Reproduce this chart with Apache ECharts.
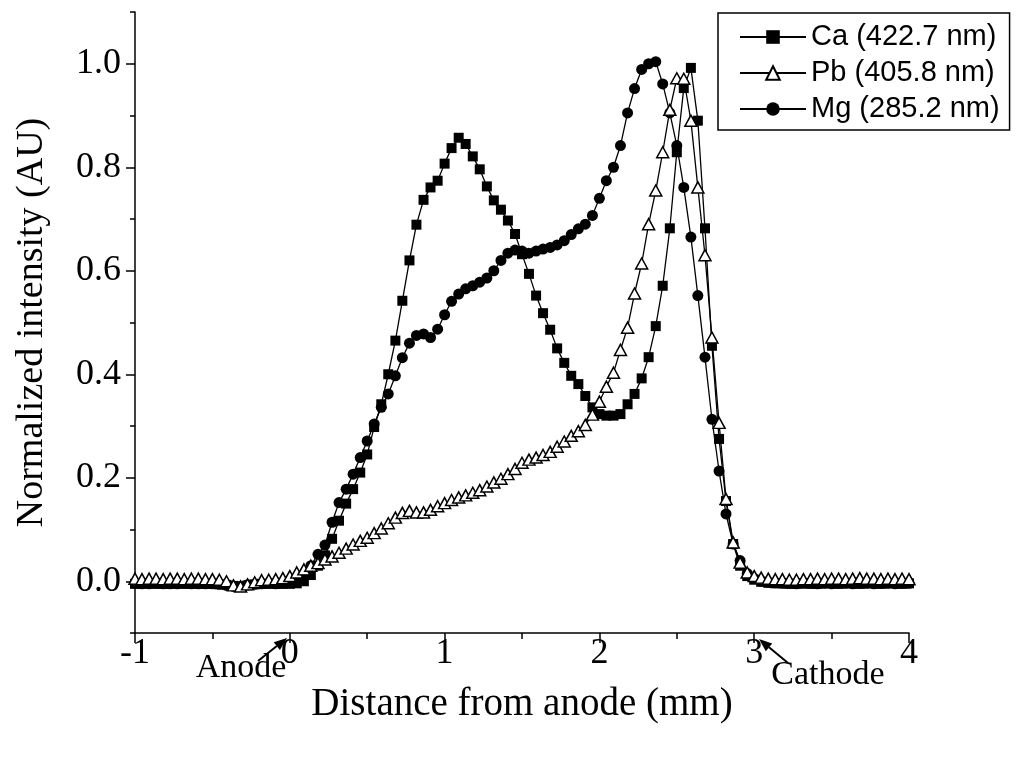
<!DOCTYPE html>
<html><head><meta charset="utf-8">
<script src="https://cdn.jsdelivr.net/npm/echarts@6/dist/echarts.min.js"></script>
<style>html,body{margin:0;padding:0;background:#fff}#c{width:1016px;height:758px}</style>
</head><body><div id="c"></div>
<script>
// Sampling positions (mm from anode)
const xs = [
 -1.000,-0.955,-0.909,-0.864,-0.818,-0.773,-0.727,-0.682,-0.636,-0.591,-0.545,
 -0.500,-0.455,-0.409,-0.364,-0.318,-0.273,-0.227,-0.182,-0.136,-0.091,-0.045,
  0.000, 0.045, 0.091, 0.136, 0.182, 0.227, 0.273, 0.318, 0.364, 0.409, 0.455,
  0.500, 0.545, 0.591, 0.636, 0.682, 0.727, 0.773, 0.818, 0.864, 0.909, 0.955,
  1.000, 1.045, 1.091, 1.136, 1.182, 1.227, 1.273, 1.318, 1.364, 1.409, 1.455,
  1.500, 1.545, 1.591, 1.636, 1.682, 1.727, 1.773, 1.818, 1.864, 1.909, 1.955,
  2.000, 2.045, 2.091, 2.136, 2.182, 2.227, 2.273, 2.318, 2.364, 2.409, 2.455,
  2.500, 2.545, 2.591, 2.636, 2.682, 2.727, 2.773, 2.818, 2.864, 2.909, 2.955,
  3.000, 3.045, 3.091, 3.136, 3.182, 3.227, 3.273, 3.318, 3.364, 3.409, 3.455,
  3.500, 3.545, 3.591, 3.636, 3.682, 3.727, 3.773, 3.818, 3.864, 3.909, 3.955,
  4.000
];
const caVals = [
 -0.005,-0.005,-0.004,-0.005,-0.005,-0.005,-0.004,-0.005,-0.005,-0.005,-0.005,
 -0.005,-0.006,-0.007,-0.009,-0.010,-0.008,-0.006,-0.005,-0.005,-0.005,-0.005,
 -0.005,-0.004, 0.000, 0.012, 0.030, 0.050, 0.082, 0.117, 0.150, 0.178, 0.210,
  0.245, 0.298, 0.342, 0.400, 0.465, 0.542, 0.620, 0.689, 0.737, 0.761, 0.774,
  0.807, 0.837, 0.857, 0.845, 0.821, 0.796, 0.763, 0.736, 0.718, 0.697, 0.671,
  0.632, 0.594, 0.552, 0.518, 0.486, 0.450, 0.422, 0.397, 0.381, 0.358, 0.336,
  0.323, 0.320, 0.320, 0.323, 0.342, 0.362, 0.392, 0.433, 0.493, 0.571, 0.682,
  0.829, 0.953, 0.992, 0.890, 0.682, 0.455, 0.275, 0.155, 0.072, 0.030, 0.010,
  0.003,-0.001,-0.003,-0.004,-0.004,-0.005,-0.005,-0.004,-0.005,-0.005,-0.004,
 -0.004,-0.005,-0.004,-0.004,-0.005,-0.004,-0.004,-0.005,-0.004,-0.004,-0.005,
 -0.004
];
const pbVals = [
  0.005, 0.004, 0.005, 0.005, 0.004, 0.005, 0.005, 0.004, 0.005, 0.005, 0.004,
  0.004, 0.003, 0.000,-0.008,-0.010,-0.006,-0.002, 0.002, 0.003, 0.004, 0.006,
  0.010, 0.017, 0.023, 0.030, 0.035, 0.042, 0.048, 0.055, 0.063, 0.071, 0.078,
  0.084, 0.093, 0.102, 0.112, 0.123, 0.132, 0.136, 0.133, 0.133, 0.138, 0.145,
  0.151, 0.157, 0.162, 0.166, 0.171, 0.176, 0.183, 0.191, 0.198, 0.207, 0.217,
  0.229, 0.235, 0.239, 0.244, 0.250, 0.260, 0.270, 0.281, 0.290, 0.302, 0.322,
  0.347, 0.376, 0.403, 0.447, 0.490, 0.556, 0.614, 0.690, 0.755, 0.829, 0.911,
  0.972, 0.971, 0.890, 0.761, 0.630, 0.471, 0.306, 0.159, 0.075, 0.036, 0.017,
  0.010, 0.007, 0.005, 0.004, 0.004, 0.003, 0.003, 0.004, 0.004, 0.005, 0.004,
  0.005, 0.005, 0.004, 0.005, 0.006, 0.005, 0.005, 0.004, 0.005, 0.004, 0.005,
  0.004
];
const mgVals = [
 -0.004,-0.005,-0.005,-0.004,-0.005,-0.005,-0.005,-0.004,-0.005,-0.005,-0.005,
 -0.005,-0.006,-0.008,-0.010,-0.010,-0.007,-0.006,-0.005,-0.004,-0.005,-0.004,
 -0.003, 0.000, 0.012, 0.030, 0.052, 0.070, 0.114, 0.152, 0.178, 0.207, 0.239,
  0.271, 0.304, 0.336, 0.362, 0.397, 0.432, 0.460, 0.475, 0.478, 0.471, 0.487,
  0.515, 0.541, 0.555, 0.565, 0.571, 0.578, 0.586, 0.600, 0.620, 0.634, 0.640,
  0.638, 0.634, 0.638, 0.642, 0.645, 0.650, 0.658, 0.670, 0.681, 0.690, 0.707,
  0.740, 0.774, 0.800, 0.842, 0.905, 0.952, 0.989, 1.000, 1.004, 0.961, 0.905,
  0.842, 0.761, 0.665, 0.552, 0.433, 0.313, 0.213, 0.130, 0.072, 0.040, 0.015,
  0.005, 0.000,-0.002,-0.003,-0.004,-0.004,-0.005,-0.004,-0.004,-0.005,-0.004,
 -0.005,-0.004,-0.004,-0.005,-0.004,-0.004,-0.005,-0.004,-0.004,-0.005,-0.004,
 -0.004
];
const seriesNames = ['Ca (422.7 nm)', 'Pb (405.8 nm)', 'Mg (285.2 nm)'];
const yLabelValues = [0, 0.2, 0.4, 0.6, 0.8, 1.0];
const yMinorValues = [-0.1, 0.1, 0.3, 0.5, 0.7, 0.9, 1.1];
const xTitle = 'Distance from anode (mm)';
const yTitle = 'Normalized intensity (AU)';
const anodeText = 'Anode';
const cathodeText = 'Cathode';

const pair = vals => xs.map((x, i) => [x, vals[i]]);
const serif = 'Liberation Serif';

function arrow(tail, tip) {
  const dx = tip[0] - tail[0], dy = tip[1] - tail[1];
  const L = Math.hypot(dx, dy), ux = dx / L, uy = dy / L;
  const hl = 13, hw = 5;
  const bx = tip[0] - ux * hl, by = tip[1] - uy * hl;
  return [
    {type: 'line', shape: {x1: tail[0], y1: tail[1], x2: bx, y2: by}, style: {stroke: '#000', lineWidth: 2}},
    {type: 'polygon', shape: {points: [tip, [bx - uy * hw, by + ux * hw], [bx + uy * hw, by - ux * hw]]}, style: {fill: '#000'}}
  ];
}

const chart = echarts.init(document.getElementById('c'), null, {renderer: 'canvas'});
const option = {
  animation: false,
  backgroundColor: '#fff',
  grid: {left: 135, right: 107, top: 12, bottom: 125, containLabel: false},
  xAxis: {
    type: 'value', min: -1, max: 4, interval: 1,
    axisLine: {show: true, onZero: false, lineStyle: {color: '#000', width: 1.5}},
    axisTick: {show: true, inside: false, length: 10, lineStyle: {color: '#000', width: 1.5}},
    minorTick: {show: true, splitNumber: 2, length: 6, lineStyle: {color: '#000', width: 1.5}},
    splitLine: {show: false},
    axisLabel: {color: '#000', fontFamily: serif, fontSize: 36, margin: 3},
    name: xTitle, nameLocation: 'middle', nameGap: 52,
    nameTextStyle: {color: '#000', fontFamily: serif, fontSize: 39}
  },
  yAxis: [{
    type: 'value', min: -0.1, max: 1.1, position: 'left', offset: 0,
    axisLine: {show: true, onZero: false, lineStyle: {color: '#000', width: 1.5}},
    axisTick: {show: true, inside: false, length: 9, customValues: yLabelValues, lineStyle: {color: '#000', width: 1.5}},
    splitLine: {show: false},
    axisLabel: {color: '#000', fontFamily: serif, fontSize: 36, margin: 14, customValues: yLabelValues,
      formatter: v => Number(v).toFixed(1)},
    name: yTitle, nameLocation: 'middle', nameGap: 84,
    nameTextStyle: {color: '#000', fontFamily: serif, fontSize: 38}
  }, {
    type: 'value', min: -0.1, max: 1.1, position: 'left', offset: 0,
    axisLine: {show: false, onZero: false},
    axisTick: {show: true, inside: false, length: 5, customValues: yMinorValues, lineStyle: {color: '#000', width: 1.5}},
    axisLabel: {show: false},
    splitLine: {show: false}
  }],
  legend: {
    orient: 'vertical', left: 718, top: 13,
    padding: [9, 10, 6, 21], itemGap: 6, itemWidth: 66, itemHeight: 17,
    borderColor: '#000', borderWidth: 1.5, backgroundColor: '#fff',
    textStyle: {color: '#000', fontFamily: 'Liberation Sans', fontSize: 29, lineHeight: 30},
    data: seriesNames
  },
  series: [{
    name: seriesNames[0], type: 'line', data: pair(caVals), z: 2,
    symbol: 'rect', symbolSize: 10, showAllSymbol: true,
    lineStyle: {color: '#000', width: 1.3}, itemStyle: {color: '#000'}
  }, {
    name: seriesNames[1], type: 'line', data: pair(pbVals), z: 4,
    symbol: 'triangle', symbolSize: [12, 11], showAllSymbol: true,
    lineStyle: {color: '#000', width: 1.3}, itemStyle: {color: '#fff', borderColor: '#000', borderWidth: 1.5}
  }, {
    name: seriesNames[2], type: 'line', data: pair(mgVals), z: 3,
    symbol: 'circle', symbolSize: 11, showAllSymbol: true,
    lineStyle: {color: '#000', width: 1.3}, itemStyle: {color: '#000'}
  }],
  graphic: [
    {type: 'text', x: 241, y: 668, style: {text: anodeText, fill: '#000', font: '34px "Liberation Serif"', align: 'center', verticalAlign: 'middle'}},
    {type: 'text', x: 828, y: 675, style: {text: cathodeText, fill: '#000', font: '34px "Liberation Serif"', align: 'center', verticalAlign: 'middle'}},
    ...arrow([258, 661], [287, 638]),
    ...arrow([788, 663], [759, 639])
  ]
};
chart.setOption(option);
</script>
</body></html>
